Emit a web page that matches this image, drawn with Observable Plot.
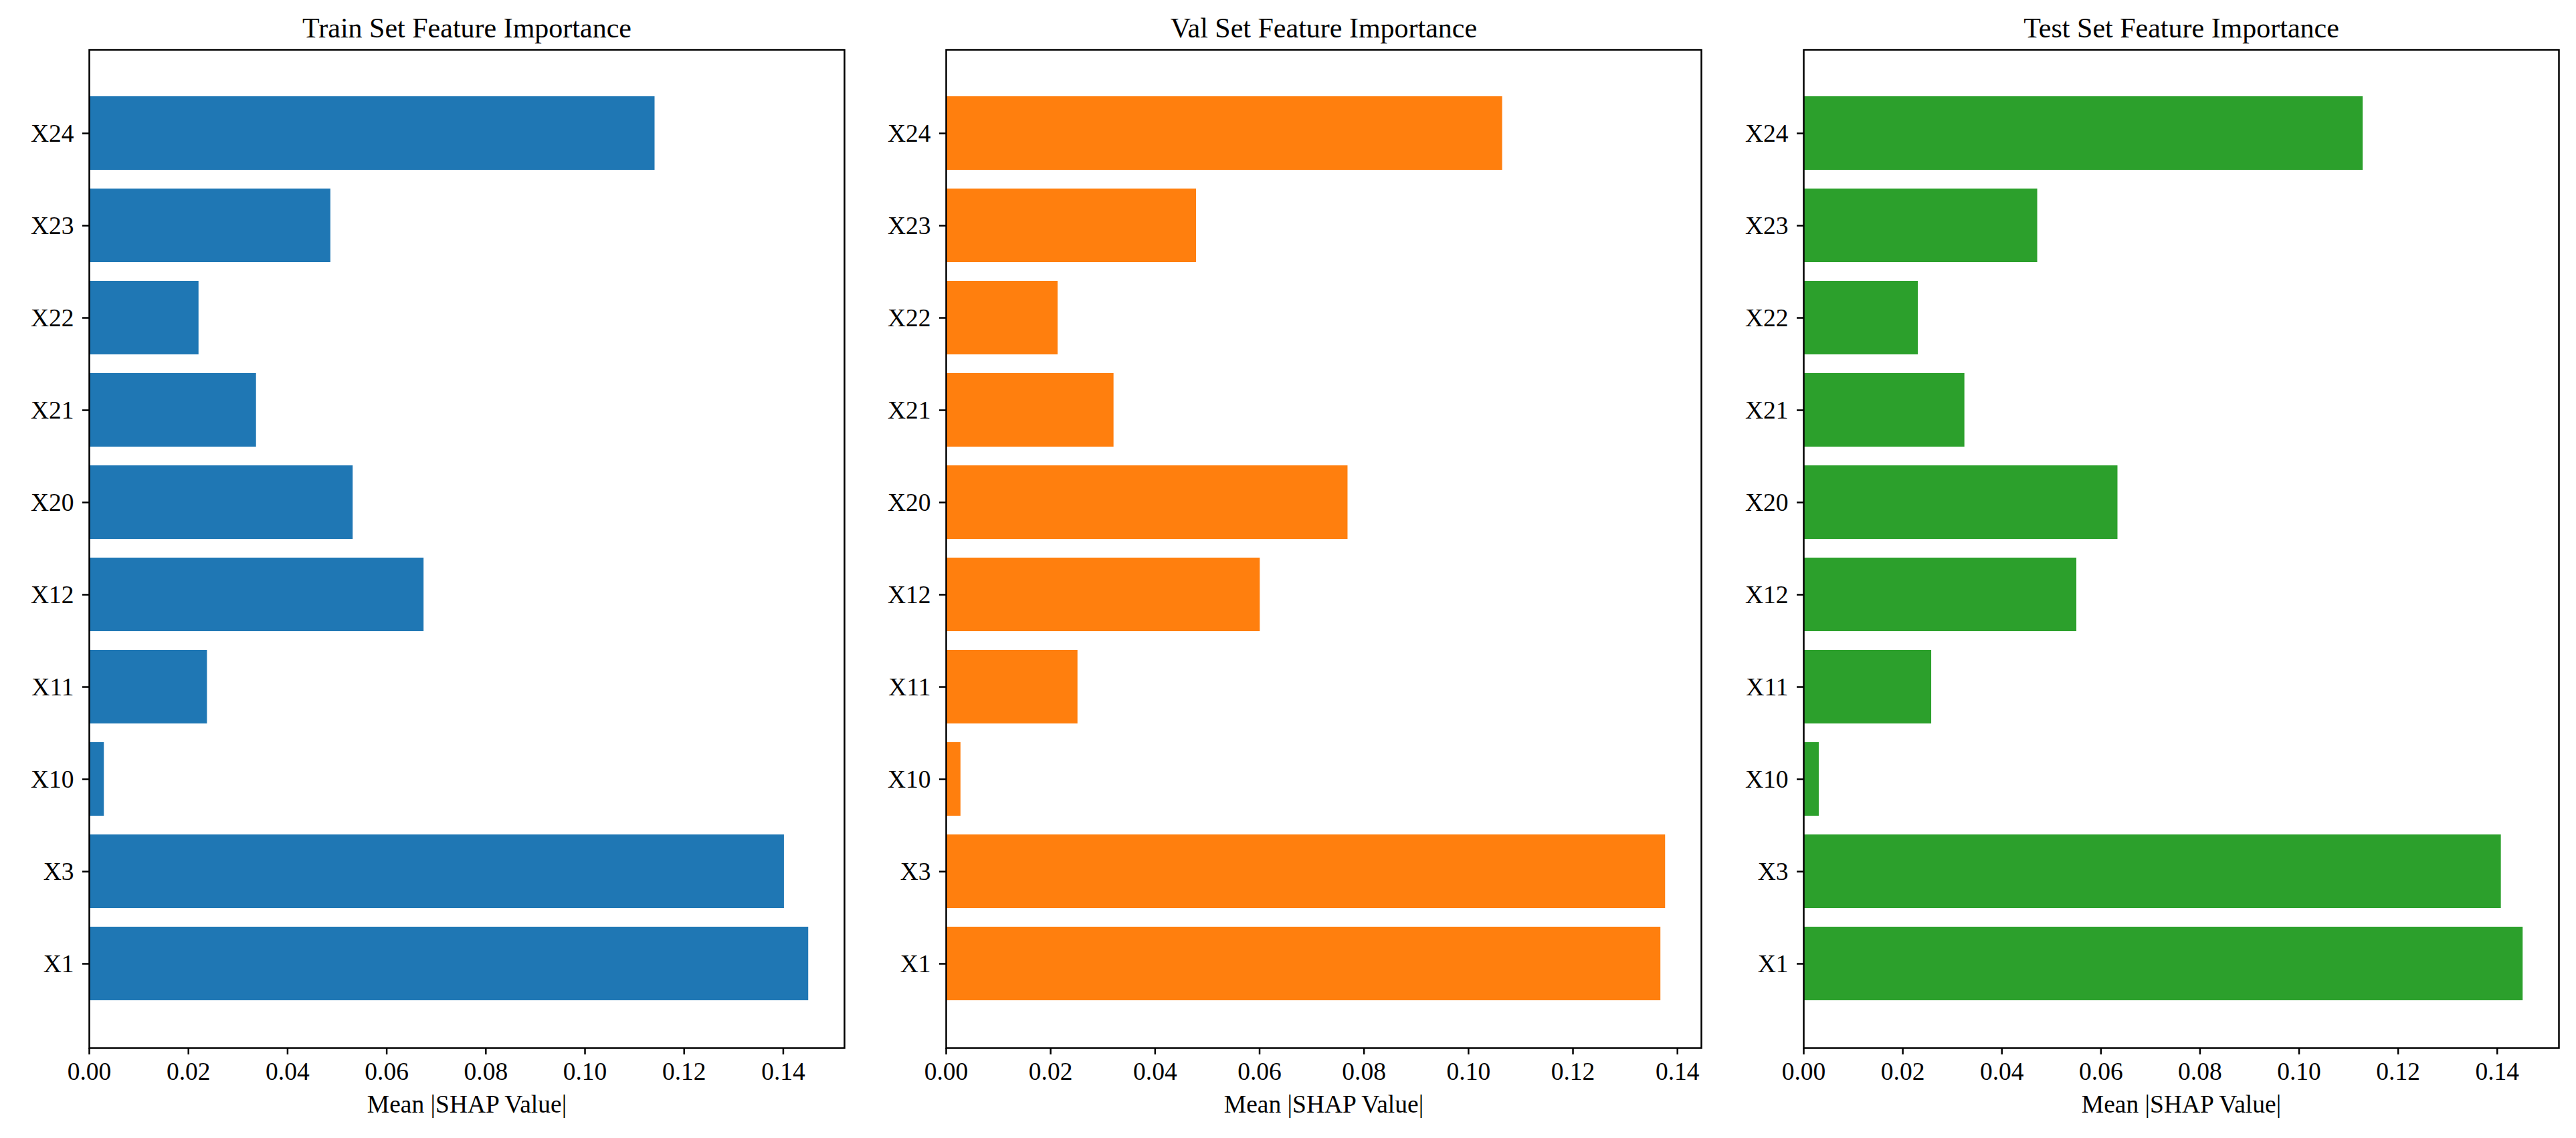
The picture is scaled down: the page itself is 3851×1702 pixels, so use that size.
<!DOCTYPE html>
<html>
<head>
<meta charset="utf-8">
<script src="https://cdn.jsdelivr.net/npm/d3@7"></script>
<script src="https://cdn.jsdelivr.net/npm/@observablehq/plot@0.6"></script>
<style>
  html, body { margin: 0; padding: 0; background: #fff; }
  #wrap { position: relative; width: 3851px; height: 1702px; background: #fff; }
  #wrap svg { position: absolute; top: 0; max-width: none; }
</style>
</head>
<body>
<div id="wrap"></div>
<script>
const features = ["X24", "X23", "X22", "X21", "X20", "X12", "X11", "X10", "X3", "X1"];
const trainValues = [0.1141, 0.0487, 0.0221, 0.0337, 0.0532, 0.0675, 0.0238, 0.0030, 0.1402, 0.1451];
const valValues   = [0.1065, 0.0479, 0.0214, 0.0321, 0.0769, 0.0601, 0.0252, 0.0028, 0.1377, 0.1368];
const testValues  = [0.1129, 0.0472, 0.0231, 0.0325, 0.0634, 0.0551, 0.0258, 0.0031, 0.1408, 0.1452];
const xTicks = [0, 0.02, 0.04, 0.06, 0.08, 0.10, 0.12, 0.14];
const titles = ["Train Set Feature Importance", "Val Set Feature Importance", "Test Set Feature Importance"];
const xLabel = "Mean |SHAP Value|";
const colors = ["#1f77b4", "#ff7f0e", "#2ca02c"];

const panels = [
  {values: trainValues, left: 0, width: 1281, mr: 19},
  {values: valValues, left: 1281, width: 1282, mr: 20},
  {values: testValues, left: 2563, width: 1288, mr: 26}
];

const wrap = document.getElementById("wrap");
panels.forEach((p, i) => {
  const data = features.map((f, j) => ({feature: f, value: p.values[j]}));
  const xmax = d3.max(p.values) * 1.05;
  const chart = Plot.plot({
    width: p.width,
    height: 1702,
    marginLeft: 133,
    marginRight: p.mr,
    marginTop: 74,
    marginBottom: 135,
    style: {fontFamily: "'Liberation Serif', 'Times New Roman', serif", fontSize: "37.5px", color: "#000", background: "transparent"},
    x: {domain: [0, xmax]},
    y: {type: "band", domain: features, paddingInner: 0.2, paddingOuter: 0.49, align: 0.5},
    marks: [
      Plot.barX(data, {y: "feature", x: "value", fill: colors[i], inset: 0}),
      Plot.frame({stroke: "#000", strokeWidth: 2.5}),
      Plot.axisX({ticks: xTicks, tickFormat: d3.format(".2f"), tickSize: 10, tickPadding: 11, strokeWidth: 2.5, label: null}),
      Plot.axisY({tickSize: 10, tickPadding: 13, strokeWidth: 2.5, label: null}),
      Plot.text([titles[i]], {text: d => d, frameAnchor: "top", dy: -19, lineAnchor: "bottom", fontSize: 42, fill: "#000"}),
      Plot.text([xLabel], {text: d => d, frameAnchor: "bottom", dy: 96, lineAnchor: "bottom", fontSize: 37.5, fill: "#000"})
    ]
  });
  chart.style.left = p.left + "px";
  wrap.appendChild(chart);
});
</script>
</body>
</html>
